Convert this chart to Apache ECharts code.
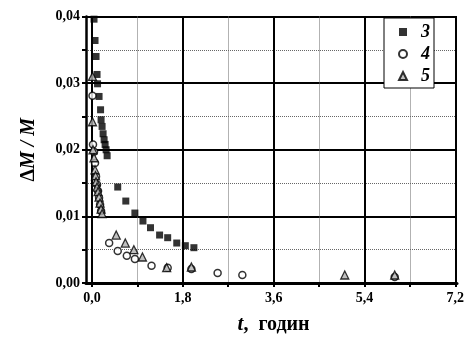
<!DOCTYPE html>
<html>
<head>
<meta charset="utf-8">
<script src="https://cdn.jsdelivr.net/npm/echarts@6/dist/echarts.min.js"></script>
<style>html,body{margin:0;padding:0;background:#fff;}#c{width:467px;height:345px;}</style>
</head>
<body>
<div id="c"></div>
<script>
// Series 3 (filled squares)
const t3 = [0.04,0.06,0.08,0.10,0.11,0.14,0.17,0.18,0.20,0.22,0.24,0.26,0.28,0.30,0.51,0.67,0.85,1.01,1.16,1.34,1.50,1.68,1.85,2.02];
const v3 = [0.0396,0.0364,0.0340,0.0313,0.0299,0.0280,0.0260,0.0245,0.0235,0.0224,0.0215,0.0208,0.0200,0.0191,0.0144,0.0123,0.0105,0.0093,0.0083,0.0072,0.0068,0.0060,0.0056,0.0053];
// Series 4 (open circles)
const t4 = [0.01,0.02,0.04,0.06,0.08,0.10,0.12,0.14,0.16,0.18,0.34,0.51,0.69,0.85,1.18,1.50,1.97,2.49,2.98,6.00];
const v4 = [0.0281,0.0208,0.0197,0.0180,0.0160,0.0148,0.0138,0.0128,0.0118,0.0108,0.0060,0.0048,0.0041,0.0036,0.0026,0.0023,0.0021,0.0015,0.0012,0.0009];
// Series 5 (grey triangles)
const t5 = [0.01,0.01,0.02,0.04,0.06,0.07,0.08,0.10,0.12,0.14,0.16,0.18,0.20,0.48,0.66,0.83,1.00,1.48,1.97,5.01,6.00];
const v5 = [0.0310,0.0242,0.0200,0.0188,0.0170,0.0161,0.0152,0.0144,0.0137,0.0129,0.0120,0.0111,0.0104,0.0072,0.0060,0.0050,0.0039,0.0023,0.0024,0.0012,0.0012];
const seriesNames = ['3','4','5'];
const xTicks = {min:0, max:7.2, interval:1.8};
const yTicks = {min:0, max:0.04, interval:0.01};

const zip = (a,b) => a.map((x,i)=>[x,b[i]]);
const serif = '"Liberation Serif","DejaVu Serif",serif';
const chart = echarts.init(document.getElementById('c'), null, {renderer:'canvas'});
chart.setOption({
  animation:false,
  backgroundColor:'#fff',
  grid:[
    {left:92, right:10, top:16.5, bottom:62, containLabel:false},
    {left:86, right:10, top:16.5, bottom:62, containLabel:false}
  ],
  legend:{
    orient:'vertical', right:33, top:18, width:52,
    itemWidth:8, itemHeight:8, itemGap:4,
    padding:[5,4,3,14],
    borderColor:'#000', borderWidth:1, backgroundColor:'#fff',
    textStyle:{fontFamily:serif, fontStyle:'italic', fontWeight:'bold', fontSize:18, color:'#000', lineHeight:16, padding:[0,0,0,9]},
    data:seriesNames
  },
  xAxis:[
    {type:'value', gridIndex:0, min:xTicks.min, max:xTicks.max, interval:xTicks.interval,
     axisLine:{show:false},
     axisTick:{show:true, inside:false, length:4, lineStyle:{color:'#000', width:2}},
     minorTick:{show:true, splitNumber:2, length:4, lineStyle:{color:'#000', width:2}},
     axisLabel:{margin:8, color:'#000', fontFamily:serif, fontWeight:'bold', fontSize:14,
       formatter:v=>v.toFixed(1).replace('.',',')},
     splitLine:{show:true, lineStyle:{color:'#000', width:2}},
     minorSplitLine:{show:true, lineStyle:{color:'#666', width:1, type:[1,1]}},
     name:'{i|t}{n|,  годин}', nameLocation:'middle', nameGap:31,
     nameTextStyle:{rich:{
       i:{fontFamily:serif, fontStyle:'italic', fontWeight:'bold', fontSize:21, color:'#000'},
       n:{fontFamily:serif, fontWeight:'bold', fontSize:20, color:'#000'}}}
    },
    {type:'value', gridIndex:1, min:0, max:1,
     axisLine:{show:true, onZero:false, lineStyle:{color:'#000', width:3}},
     axisTick:{show:false}, axisLabel:{show:false}, splitLine:{show:false}}
  ],
  yAxis:[
    {type:'value', gridIndex:0, min:yTicks.min, max:yTicks.max, interval:yTicks.interval,
     axisLine:{show:false}, axisTick:{show:false}, axisLabel:{show:false},
     splitLine:{show:false}},
    {type:'value', gridIndex:1, min:yTicks.min, max:yTicks.max, interval:yTicks.interval,
     axisLine:{show:true, lineStyle:{color:'#000', width:2.5}},
     axisTick:{show:true, inside:false, length:4, lineStyle:{color:'#000', width:2}},
     minorTick:{show:true, splitNumber:2, length:4, lineStyle:{color:'#000', width:2}},
     axisLabel:{margin:6, color:'#000', fontFamily:serif, fontWeight:'bold', fontSize:14,
       formatter:v=>v.toFixed(2).replace('.',',')},
     splitLine:{show:true, lineStyle:{color:'#000', width:2}},
     minorSplitLine:{show:true, lineStyle:{color:'#666', width:1, type:[1,1]}},
     name:'{d|Δ}{m|M / M}', nameLocation:'middle', nameGap:47,
     nameTextStyle:{rich:{
       d:{fontFamily:serif, fontWeight:'bold', fontSize:20, color:'#000'},
       m:{fontFamily:serif, fontStyle:'italic', fontWeight:'bold', fontSize:20, color:'#000'}}}
    }
  ],
  series:[
    {name:seriesNames[0], type:'scatter', xAxisIndex:0, yAxisIndex:0, data:zip(t3,v3),
     symbol:'rect', symbolSize:7, itemStyle:{color:'#000'}, z:3},
    {name:seriesNames[1], type:'scatter', xAxisIndex:0, yAxisIndex:0, data:zip(t4,v4),
     symbol:'circle', symbolSize:7, itemStyle:{color:'#fff', borderColor:'#000', borderWidth:1.5}, z:4},
    {name:seriesNames[2], type:'scatter', xAxisIndex:0, yAxisIndex:0, data:zip(t5,v5),
     symbol:'triangle', symbolSize:8, itemStyle:{color:'#b0b0b0', borderColor:'#000', borderWidth:1.3}, z:5}
  ]
});
</script>
</body>
</html>
